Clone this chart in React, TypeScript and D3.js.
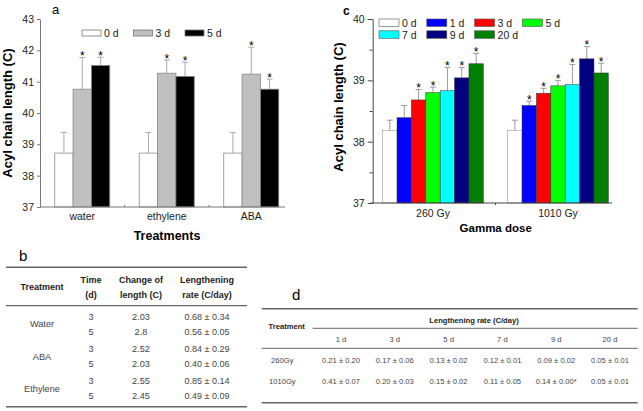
import React, { useRef, useEffect } from 'react';
import * as d3 from 'd3';

// panel a: acyl chain length per treatment
const treatmentsA = ['water', 'ethylene', 'ABA'];
const daysA = ['0 d', '3 d', '5 d'];
const colorsA = ['#ffffff', '#c0c0c0', '#000000'];
const meanA = [[38.72, 40.76, 41.52], [38.72, 41.27, 41.17], [38.72, 41.24, 40.76]];
const errA = [[0.66, 1.01, 0.26], [0.66, 0.42, 0.45], [0.66, 0.86, 0.32]];
const starA = [[0, 1, 1], [0, 1, 1], [0, 1, 1]];
const ticksA = [37, 38, 39, 40, 41, 42, 43];

// panel c: gamma dose
const dosesC = ['260 Gy', '1010 Gy'];
const daysC = ['0 d', '1 d', '3 d', '5 d', '7 d', '9 d', '20 d'];
const colorsC = ['#ffffff', '#0000ff', '#ff0000', '#00ff00', '#00ffff', '#000080', '#008000'];
const meanC = [
  [38.18, 38.39, 38.68, 38.80, 38.83, 39.04, 39.27],
  [38.18, 38.59, 38.79, 38.91, 38.93, 39.35, 39.12],
];
const errC = [
  [0.17, 0.20, 0.17, 0.09, 0.38, 0.17, 0.17],
  [0.17, 0.07, 0.08, 0.09, 0.33, 0.20, 0.16],
];
const starC = [[0, 0, 1, 1, 1, 1, 1], [0, 1, 1, 1, 1, 1, 1]];
const ticksC = [37, 38, 39, 40];
const minorTicksC = [37.5, 38.5, 39.5];

// table b
const tableBTreat = ['Water', 'ABA', 'Ethylene'];
const tableBTime = ['3', '5'];
const tableBChange = [['2.03', '2.8'], ['2.52', '2.03'], ['2.55', '2.45']];
const tableBRate = [
  ['0.68 ± 0.34', '0.56 ± 0.05'],
  ['0.84 ± 0.29', '0.40 ± 0.06'],
  ['0.85 ± 0.14', '0.49 ± 0.09'],
];

// table d
const tableDDoses = ['260Gy', '1010Gy'];
const tableDDays = ['1 d', '3 d', '5 d', '7 d', '9 d', '20 d'];
const tableDRate = [
  ['0.21 ± 0.20', '0.17 ± 0.06', '0.13 ± 0.02', '0.12 ± 0.01', '0.09 ± 0.02', '0.05 ± 0.01'],
  ['0.41 ± 0.07', '0.20 ± 0.03', '0.15 ± 0.02', '0.11 ± 0.05', '0.14 ± 0.00*', '0.05 ± 0.01'],
];

const FONT = 'Liberation Sans, Arial, sans-serif';

export default function App() {
  const svgRef = useRef<SVGSVGElement>(null);

  useEffect(() => {
    const svg = d3.select(svgRef.current);
    svg.selectAll('*').remove();
    svg.style('font-family', FONT);

    const txt = (g: any, x: number, y: number, s: string, size: number, opts: any = {}) =>
      g.append('text')
        .attr('x', x).attr('y', y)
        .attr('font-size', size)
        .attr('text-anchor', opts.anchor || 'middle')
        .attr('font-weight', opts.bold ? 'bold' : 'normal')
        .attr('fill', opts.fill || '#000')
        .attr('transform', opts.rotate ? `rotate(-90,${x},${y})` : null)
        .text(s);

    // ---------- panel a ----------
    const ga = svg.append('g');
    const ya = d3.scaleLinear().domain([37, 43]).range([207, 19]);
    const xa = d3.scaleBand().domain(treatmentsA).range([40, 293.5]);
    const xaIn = d3.scaleBand().domain(daysA).range([0, 55]);

    treatmentsA.forEach((t, i) => {
      const x0 = (xa(t) as number) + xa.bandwidth() / 2 - 27.5;
      daysA.forEach((d, j) => {
        const bx = x0 + (xaIn(d) as number);
        const cx = bx + xaIn.bandwidth() / 2;
        const top = ya(meanA[i][j] + errA[i][j]);
        ga.append('line').attr('x1', cx).attr('x2', cx)
          .attr('y1', ya(meanA[i][j])).attr('y2', top)
          .attr('stroke', '#aaa').attr('stroke-width', 1);
        ga.append('line').attr('x1', cx - 3).attr('x2', cx + 3)
          .attr('y1', top).attr('y2', top)
          .attr('stroke', '#aaa').attr('stroke-width', 1);
        ga.append('rect')
          .attr('x', bx).attr('y', ya(meanA[i][j]))
          .attr('width', xaIn.bandwidth()).attr('height', ya(37) - ya(meanA[i][j]))
          .attr('fill', colorsA[j]).attr('stroke', '#8a8a8a').attr('stroke-width', 0.8);
        if (starA[i][j]) txt(ga, cx, top + 2.5, '*', 12);
      });
    });

    const yAxisA = ga.append('g').attr('transform', 'translate(40,0)')
      .call(d3.axisLeft(ya).tickValues(ticksA).tickFormat(d3.format('d')).tickSize(3).tickSizeOuter(0));
    yAxisA.select('.domain').attr('stroke', '#777');
    yAxisA.selectAll('.tick line').attr('stroke', '#777');
    yAxisA.selectAll('.tick text').attr('font-size', 10.5).attr('font-family', FONT).attr('fill', '#222');

    ga.append('line').attr('x1', 40).attr('x2', 285).attr('y1', ya(37)).attr('y2', ya(37))
      .attr('stroke', '#777');
    treatmentsA.forEach((t, i) => {
      if (i > 0) {
        ga.append('line').attr('x1', xa(t) as number).attr('x2', xa(t) as number)
          .attr('y1', ya(37)).attr('y2', ya(37) - 2).attr('stroke', '#777');
      }
      txt(ga, (xa(t) as number) + xa.bandwidth() / 2, 220, t, 10.5, { fill: '#222' });
    });
    txt(ga, 167, 240, 'Treatments', 12.5, { bold: true });
    txt(ga, 12, 113, 'Acyl chain length (C)', 13, { bold: true, rotate: true });
    txt(ga, 52, 14, 'a', 13, { anchor: 'start' });

    daysA.forEach((d, j) => {
      const lx = 82 + j * 51.5;
      ga.append('rect').attr('x', lx).attr('y', 30).attr('width', 19).attr('height', 6)
        .attr('fill', colorsA[j]).attr('stroke', '#777').attr('stroke-width', 0.8);
      txt(ga, lx + 22, 36.5, d, 10.5, { anchor: 'start', fill: '#222' });
    });

    // ---------- panel c ----------
    const gc = svg.append('g');
    const yc = d3.scaleLinear().domain([37, 40]).range([203, 19]);
    const xc = d3.scaleBand().domain(dosesC).range([370.5, 620.5]);
    const xcIn = d3.scaleBand().domain(daysC).range([0, 100.7]);

    dosesC.forEach((t, i) => {
      const x0 = (xc(t) as number) + xc.bandwidth() / 2 - 50.35;
      daysC.forEach((d, j) => {
        const bx = x0 + (xcIn(d) as number);
        const cx = bx + xcIn.bandwidth() / 2;
        const top = yc(meanC[i][j] + errC[i][j]);
        gc.append('line').attr('x1', cx).attr('x2', cx)
          .attr('y1', yc(meanC[i][j])).attr('y2', top)
          .attr('stroke', '#999').attr('stroke-width', 1);
        gc.append('line').attr('x1', cx - 3).attr('x2', cx + 3)
          .attr('y1', top).attr('y2', top)
          .attr('stroke', '#999').attr('stroke-width', 1);
        gc.append('rect')
          .attr('x', bx).attr('y', yc(meanC[i][j]))
          .attr('width', xcIn.bandwidth()).attr('height', yc(37) - yc(meanC[i][j]))
          .attr('fill', colorsC[j]).attr('stroke', j === 0 ? '#888' : '#333').attr('stroke-width', 0.5);
        if (starC[i][j]) txt(gc, cx, top + 2.5, '*', 12);
      });
    });

    const yAxisC = gc.append('g').attr('transform', 'translate(372.7,0)')
      .call(d3.axisLeft(yc).tickValues(ticksC).tickFormat(d3.format('d')).tickSize(5).tickSizeOuter(0));
    yAxisC.select('.domain').attr('stroke', '#444');
    yAxisC.selectAll('.tick line').attr('stroke', '#444');
    yAxisC.selectAll('.tick text').attr('font-size', 10.5).attr('font-family', FONT).attr('fill', '#222');
    const minorC = gc.append('g').attr('transform', 'translate(372.7,0)')
      .call(d3.axisLeft(yc).tickValues(minorTicksC).tickFormat(() => '').tickSize(3).tickSizeOuter(0));
    minorC.select('.domain').remove();
    minorC.selectAll('.tick line').attr('stroke', '#444');

    gc.append('line').attr('x1', 370.5).attr('x2', 612).attr('y1', yc(37)).attr('y2', yc(37))
      .attr('stroke', '#444');
    dosesC.forEach((t, i) => {
      if (i > 0) {
        gc.append('line').attr('x1', xc(t) as number).attr('x2', xc(t) as number)
          .attr('y1', yc(37)).attr('y2', yc(37) + 2).attr('stroke', '#444');
      }
      txt(gc, (xc(t) as number) + xc.bandwidth() / 2, 216.5, t, 10.5, { fill: '#222' });
    });
    txt(gc, 495.7, 232, 'Gamma dose', 11.5, { bold: true });
    txt(gc, 343, 107, 'Acyl chain length (C)', 13, { bold: true, rotate: true });
    txt(gc, 343, 15, 'c', 12, { anchor: 'start', bold: true });

    daysC.forEach((d, j) => {
      const lx = 379 + (j % 4) * 47.8;
      const ly = 19 + Math.floor(j / 4) * 11.8;
      gc.append('rect').attr('x', lx).attr('y', ly).attr('width', 20).attr('height', 7.5)
        .attr('fill', colorsC[j]).attr('stroke', '#555').attr('stroke-width', 0.6);
      txt(gc, lx + 23, ly + 7.8, d, 10.5, { anchor: 'start', fill: '#222' });
    });

    // ---------- table b ----------
    const gb = svg.append('g');
    txt(gb, 19, 261, 'b', 15, { anchor: 'start' });
    const hl = (g: any, x1: number, x2: number, y: number, w = 1.2) =>
      g.append('line').attr('x1', x1).attr('x2', x2).attr('y1', y).attr('y2', y)
        .attr('stroke', '#666').attr('stroke-width', w);
    hl(gb, 6, 247, 267.3, 1.4);
    hl(gb, 6, 247, 305.7);
    hl(gb, 6, 247, 406.7, 1.4);
    const colB = [42, 91, 141, 207];
    const headB = [['Treatment'], ['Time', '(d)'], ['Change of', 'length (C)'], ['Lengthening', 'rate (C/day)']];
    headB.forEach((h, k) => {
      if (h.length === 1) txt(gb, colB[k], 290, h[0], 9, { bold: true, fill: '#222' });
      else {
        txt(gb, colB[k], 282.5, h[0], 9, { bold: true, fill: '#222' });
        txt(gb, colB[k], 297.5, h[1], 9, { bold: true, fill: '#222' });
      }
    });
    tableBTreat.forEach((t, i) => {
      const gy = 324 + i * 32.2;
      txt(gb, colB[0], gy + 3.3, t, 9.2, { fill: '#444' });
      tableBTime.forEach((tm, r) => {
        const ry = gy + (r === 0 ? -7.3 : 7.3) + 3.3;
        txt(gb, colB[1], ry, tm, 9.2, { fill: '#444' });
        txt(gb, colB[2], ry, tableBChange[i][r], 9.2, { fill: '#444' });
        txt(gb, colB[3], ry, tableBRate[i][r], 9, { fill: '#444' });
      });
    });

    // ---------- table d ----------
    const gd = svg.append('g');
    txt(gd, 292, 300, 'd', 15, { anchor: 'start' });
    hl(gd, 261.7, 637.7, 308.7, 1.4);
    hl(gd, 312.7, 637.7, 328.3, 1);
    hl(gd, 261.7, 637.7, 348.3, 1);
    hl(gd, 261.7, 637.7, 402.7, 1.4);
    const xd = d3.scalePoint().domain(tableDDays).range([341, 610]);
    txt(gd, 286.7, 328.8, 'Treatment', 7.6, { bold: true, fill: '#222' });
    txt(gd, 474, 322.8, 'Lengthening rate (C/day)', 7.6, { bold: true, fill: '#222' });
    tableDDays.forEach((d) => txt(gd, xd(d) as number, 341.5, d, 7.6, { fill: '#444' }));
    tableDDoses.forEach((dose, i) => {
      const ry = 362.5 + i * 21;
      txt(gd, 282.3, ry, dose, 7.6, { fill: '#444' });
      tableDDays.forEach((d, k) => txt(gd, xd(d) as number, ry, tableDRate[i][k], 7.6, { fill: '#444' }));
    });
  }, []);

  return (
    <svg ref={svgRef} width={643} height={411}
      style={{ position: 'absolute', left: 0, top: 0, background: '#fff' }} />
  );
}
